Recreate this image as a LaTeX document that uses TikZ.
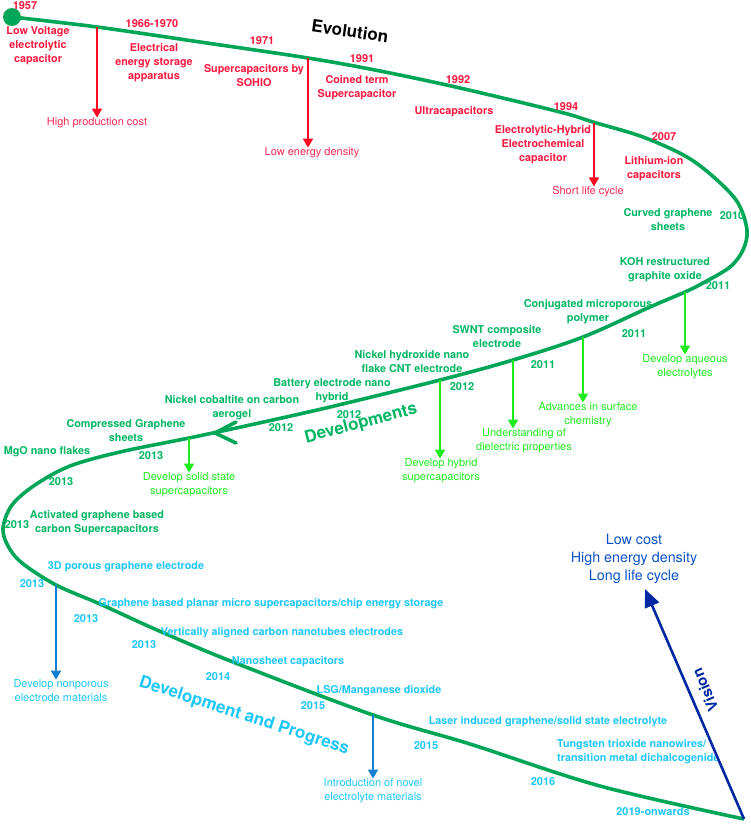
\documentclass[tikz,border=0pt]{standalone}
\usepackage{fontspec}
\setmainfont{TeX Gyre Heros}
\usetikzlibrary{arrows.meta}

\definecolor{curvegreen}{RGB}{0,166,88}
\definecolor{evored}{RGB}{250,22,62}
\definecolor{notered}{RGB}{250,40,85}
\definecolor{arrred}{RGB}{250,10,35}
\definecolor{devgreen}{RGB}{0,182,98}
\definecolor{brightgreen}{RGB}{30,235,30}
\definecolor{progcyan}{RGB}{28,198,248}
\definecolor{arrblue}{RGB}{20,128,210}
\definecolor{visnavy}{RGB}{0,40,160}
\definecolor{goalblue}{RGB}{10,82,195}

\newcommand{\lblfont}{\bfseries\fontsize{10.8}{14}\selectfont}
\newcommand{\yrfont}{\bfseries\fontsize{11}{13}\selectfont}
\newcommand{\notefont}{\fontsize{11}{14}\selectfont}

\begin{document}
\begin{tikzpicture}
  [x=1pt,y=-1pt,
   every node/.style={inner sep=0pt,align=center},
   curve/.style={draw=curvegreen,line width=3.6pt},
   evo/.style={text=evored,font=\lblfont},
   evoyr/.style={text=evored,font=\yrfont},
   evonote/.style={text=notered,font=\notefont},
   dev/.style={text=devgreen,font=\lblfont},
   devyr/.style={text=devgreen,font=\yrfont},
   devnote/.style={text=brightgreen,font=\notefont},
   prog/.style={text=progcyan,font=\lblfont},
   progyr/.style={text=progcyan,font=\yrfont},
   prognote/.style={text=progcyan,font=\notefont},
   redarr/.style={draw=arrred,line width=1.6pt,-{Triangle[length=9pt,width=10pt]}},
   greenarr/.style={draw=brightgreen,line width=1.6pt,-{Triangle[length=9pt,width=10pt]}},
   bluearr/.style={draw=arrblue,line width=1.6pt,-{Triangle[length=9pt,width=10pt]}}]
  \useasboundingbox (0,0) rectangle (751,825);

  % the timeline
  \node[circle,fill=curvegreen,minimum size=18pt] (start) at (12,17) {};
  \draw[curve] plot[smooth,tension=0.55] coordinates {
    (12,17) (97,27) (200,42) (308,58) (380,71) (460,88) (560,112) (593,122)
    (643,137) (687,157) (717,180) (738,203) (747,230) (743,250) (730,267)
    (703,283) (685,292) (650,307) (583,337) (513,360) (440,380) (330,407)
    (250,425) (189,438) (120,452) (70,466) (35,485) (12,505) (3,528) (8,546)
    (22,563) (56,585) (100,604) (157,630) (233,662) (373,715) (470,744)
    (600,786) (744,819)};
  \coordinate (chev) at (215,433);
  \draw[curve,line cap=round] (236,422) -- (chev) -- (236,443);

  % points on the timeline
  \coordinate (a1) at (97,27);
  \coordinate (a2) at (308,58);
  \coordinate (a3) at (594,123);
  \coordinate (g1) at (685,292);
  \coordinate (g2) at (583,337);
  \coordinate (g3) at (513,360);
  \coordinate (g4) at (440,380);
  \coordinate (g5) at (189,438);
  \coordinate (b1) at (56,585);
  \coordinate (b2) at (373,715);
  \coordinate (vend) at (744,819);
  \coordinate (vtip) at (645,589);

  % Evolution
  \node[rotate=-8,font=\bfseries\fontsize{17}{20}\selectfont] (evolution) at (350,31) {Evolution};
  \node[evoyr] (y1957) at (25,6) {1957};
  \node[evo] (lowv) at (38,46) {Low Voltage\\electrolytic\\capacitor};
  \node[evoyr] (y1966) at (152,24) {1966-1970};
  \node[evo] (elec) at (154,63) {Electrical\\energy storage\\apparatus};
  \node[evoyr] (y1971) at (262,41) {1971};
  \node[evo] (sohio) at (254,76) {Supercapacitors by\\SOHIO};
  \node[evoyr] (y1991) at (362,59) {1991};
  \node[evo] (coined) at (357,88) {Coined term\\Supercapacitor};
  \node[evoyr] (y1992) at (458,80) {1992};
  \node[evo] (ultra) at (454,112) {Ultracapacitors};
  \node[evoyr] (y1994) at (566,107) {1994};
  \node[evo] (hybrid) at (543,145) {Electrolytic-Hybrid\\Electrochemical\\capacitor};
  \node[evoyr] (y2007) at (664,137) {2007};
  \node[evo] (lithium) at (654,169) {Lithium-ion\\capacitors};
  \node[evonote] (cost) at (97,123) {High production cost};
  \node[evonote] (dens) at (312,153) {Low energy density};
  \node[evonote] (short) at (588,192) {Short life cycle};

  % Developments
  \node[rotate=15,text=devgreen,font=\bfseries\fontsize{17}{20}\selectfont] (developments) at (361,424) {Developments};
  \node[dev] (curved) at (668,220) {Curved graphene\\sheets};
  \node[devyr] (y2010) at (732,216) {2010};
  \node[dev] (koh) at (665,270) {KOH restructured\\graphite oxide};
  \node[devyr] (y2011a) at (718,286) {2011};
  \node[dev] (conj) at (588,312) {Conjugated microporous\\polymer};
  \node[devyr] (y2011b) at (634,334) {2011};
  \node[dev] (swnt) at (497,337) {SWNT composite\\electrode};
  \node[devyr] (y2011c) at (543,365) {2011};
  \node[dev] (nickelh) at (412,362) {Nickel hydroxide nano\\flake CNT electrode};
  \node[devyr] (y2012a) at (462,387) {2012};
  \node[dev] (battery) at (332,391) {Battery electrode nano\\hybrid};
  \node[devyr] (y2012b) at (349,415) {2012};
  \node[dev] (cobalt) at (232,408) {Nickel cobaltite on carbon\\aerogel};
  \node[devyr] (y2012c) at (281,428) {2012};
  \node[dev] (compressed) at (126,431) {Compressed Graphene\\sheets};
  \node[devyr] (y2013a) at (151,456) {2013};
  \node[dev] (mgo) at (47,452) {MgO nano flakes};
  \node[devyr] (y2013b) at (61,482) {2013};
  \node[dev] (activated) at (97,523) {Activated graphene based\\carbon Supercapacitors};
  \node[devyr] (y2013c) at (17,525) {2013};
  \node[devnote] (aqueous) at (685,367) {Develop aqueous\\electrolytes};
  \node[devnote] (surface) at (588,415) {Advances in surface\\chemistry};
  \node[devnote] (dielectric) at (524,441) {Understanding of\\dielectric properties};
  \node[devnote] (hybridsc) at (441,471) {Develop hybrid\\supercapacitors};
  \node[devnote] (solid) at (189,485) {Develop solid state\\supercapacitors};

  % Development and Progress
  \node[rotate=-18,text=progcyan,font=\bfseries\fontsize{17}{20}\selectfont] (progress) at (244,716) {Development and Progress};
  \node[prog] (porous) at (126,567) {3D porous graphene electrode};
  \node[progyr] (y2013d) at (32,584) {2013};
  \node[prog] (planar) at (271,604) {Graphene based planar micro supercapacitors/chip energy storage};
  \node[progyr] (y2013e) at (86,619) {2013};
  \node[prog] (vertical) at (282,633) {Vertically aligned carbon nanotubes electrodes};
  \node[progyr] (y2013f) at (144,645) {2013};
  \node[prog] (nanosheet) at (288,662) {Nanosheet capacitors};
  \node[progyr] (y2014) at (218,677) {2014};
  \node[prog] (lsg) at (379,691) {LSG/Manganese dioxide};
  \node[progyr] (y2015a) at (313,706) {2015};
  \node[prog] (laser) at (548,722) {Laser induced graphene/solid state electrolyte};
  \node[progyr] (y2015b) at (426,746) {2015};
  \node[prog,anchor=west,align=left] (tungsten) at (557,752) {Tungsten trioxide nanowires/\\transition metal dichalcogenide};
  \node[progyr] (y2016) at (543,782) {2016};
  \node[progyr] (y2019) at (653,812) {2019-onwards};
  \node[prognote] (nonporous) at (61,691) {Develop nonporous\\electrode materials};
  \node[prognote] (novel) at (373,791) {Introduction of novel\\electrolyte materials};

  % Vision
  \node[text=goalblue,font=\fontsize{14.3}{18}\selectfont] (goals) at (634,559) {Low cost\\High energy density\\Long life cycle};
  \node[rotate=113,text=visnavy,font=\bfseries\fontsize{15}{18}\selectfont] (vision) at (705,690) {Vision};
  \draw[draw=visnavy,line width=2.6pt,-{Triangle[length=18pt,width=15pt]}] (vend) -- (vtip);

  \foreach \from/\to in {a1/cost, a2/dens, a3/short}
    \draw[redarr] (\from) -- (\from |- \to.north);
  \foreach \from/\to in {g1/aqueous, g2/surface, g3/dielectric, g4/hybridsc, g5/solid}
    \draw[greenarr] (\from) -- (\from |- \to.north);
  \foreach \from/\to in {b1/nonporous, b2/novel}
    \draw[bluearr] (\from) -- (\from |- \to.north);

\end{tikzpicture}
\end{document}
